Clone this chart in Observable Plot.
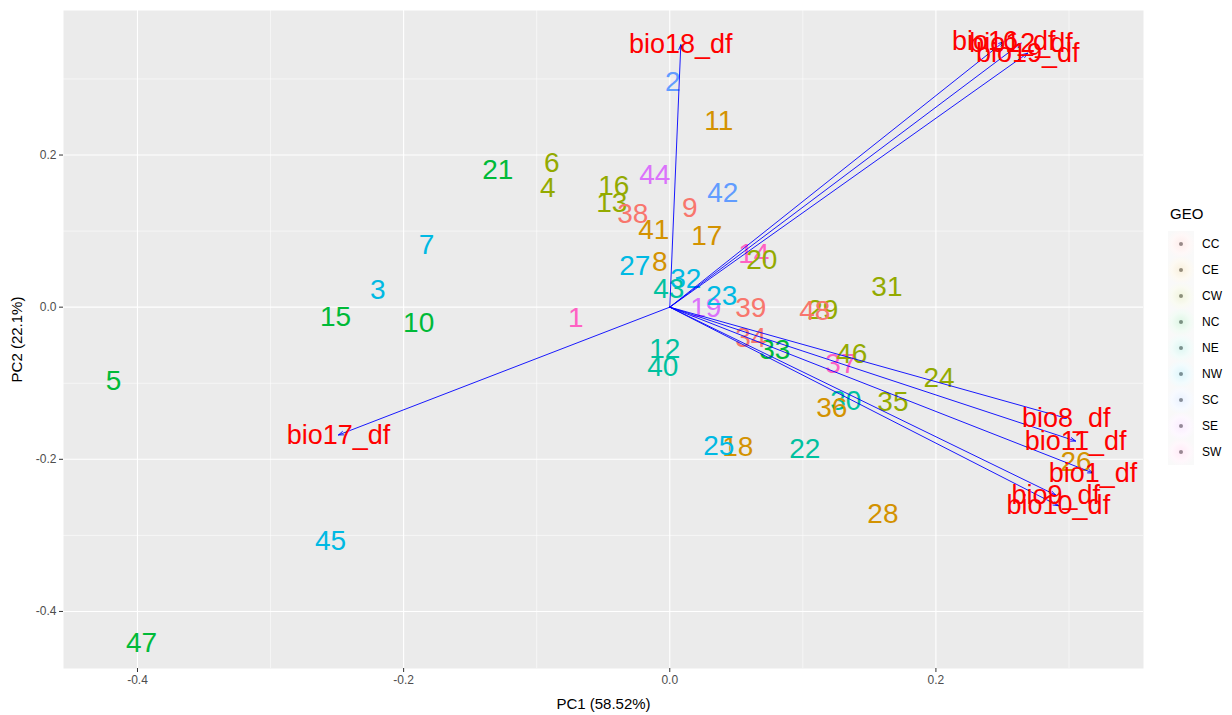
<!DOCTYPE html>
<html>
<head>
<meta charset="utf-8">
<script src="https://cdn.jsdelivr.net/npm/d3@7"></script>
<script src="https://cdn.jsdelivr.net/npm/@observablehq/plot@0.6"></script>
<style>
  html, body { margin: 0; padding: 0; background: #fff; }
  #wrap { position: relative; width: 1232px; height: 715px; font-family: "Liberation Sans", Arial, sans-serif; }
  #chart { position: absolute; left: 0; top: 0; }
  #legend { position: absolute; left: 1168px; top: 205px; font-family: "Liberation Sans", Arial, sans-serif; }
  #legend .title { font-size: 15px; color: #000; margin-left: 2px; height: 26px; }
  #legend .row { display: flex; align-items: center; height: 26px; }
  #legend .key { width: 26px; height: 26px; display: flex; align-items: center; justify-content: center; }
  #legend .dot { width: 4px; height: 4px; border-radius: 50%; background: #8a8a8a; }
  #legend .lab { font-size: 12px; color: #000; margin-left: 8px; }
</style>
</head>
<body>
<div id="wrap">
  <div id="chart"></div>
  <div id="legend"></div>
</div>
<script>
// ---- data ----
const pointLabels = ["1","2","3","4","5","6","7","8","9","10","11","12","13","14","15","16","17","18","19","20","21","22","23","24","25","26","27","28","29","30","31","32","33","34","35","36","37","38","39","40","41","42","43","44","45","46","47","48"];
const pc1 = [-0.0707,0.0023,-0.2195,-0.0917,-0.418,-0.0887,-0.1827,-0.0075,0.015,-0.1887,0.0368,-0.0038,-0.0436,0.0632,-0.2511,-0.0421,0.0278,0.0511,0.0271,0.0692,-0.1293,0.1015,0.0391,0.2023,0.0368,0.3053,-0.0263,0.1602,0.115,0.1323,0.1632,0.012,0.0789,0.0609,0.1677,0.1218,0.1286,-0.0278,0.0609,-0.0053,-0.012,0.0398,-0.0008,-0.0113,-0.2549,0.1368,-0.397,0.109];
const pc2 = [-0.0145,0.296,0.0224,0.1566,-0.0974,0.1895,0.0816,0.0592,0.130,-0.021,0.2447,-0.0553,0.1368,0.0697,-0.0132,0.1592,0.0934,-0.1842,-0.0013,0.0618,0.1803,-0.1868,0.0145,-0.0934,-0.1829,-0.204,0.0539,-0.2724,-0.004,-0.1237,0.0263,0.0368,-0.0566,-0.0408,-0.125,-0.1329,-0.075,0.1224,-0.0013,-0.0789,0.1013,0.15,0.0237,0.1737,-0.3079,-0.0618,-0.442,-0.0053];
const geo = ["SW","SC","NW","CW","NC","CW","NW","CE","CC","NC","CE","NE","CW","SW","NC","CW","CE","CE","SE","CW","NC","NE","NW","CW","NW","CE","NW","CE","CW","NE","CW","NW","NC","CC","CW","CE","SW","CC","CC","NE","CE","SC","NE","SE","NW","CW","NC","CC"];

const geoGroups = ["CC","CE","CW","NC","NE","NW","SC","SE","SW"];
const geoColors = ["#F8766D","#D39200","#93AA00","#00BA38","#00C19F","#00B9E3","#619CFF","#DB72FB","#FF61C3"];

const varNames = ["bio18_df","bio17_df","bio16_df","bio12_df","bio19_df","bio8_df","bio11_df","bio1_df","bio9_df","bio10_df"];
const loadX = [0.0083,-0.249,0.251,0.264,0.269,0.298,0.305,0.318,0.290,0.292];
const loadY = [0.345,-0.168,0.349,0.347,0.334,-0.146,-0.176,-0.218,-0.247,-0.261];

const xMajor = [-0.4,-0.2,0,0.2];
const xMinor = [-0.3,-0.1,0.1,0.3];
const yMajor = [-0.4,-0.2,0,0.2];
const yMinor = [-0.3,-0.1,0.1,0.3];

// ---- tables ----
const points = pointLabels.map((l,i)=>({label:l, x:pc1[i], y:pc2[i], geo:geo[i]}));
const loads = varNames.map((n,i)=>({name:n, x:loadX[i], y:loadY[i]}));
const fmt = d => d.toFixed(1);
const FONT = "Liberation Sans, Arial, sans-serif";

const chart = Plot.plot({
  width: 1150,
  height: 715,
  marginLeft: 63,
  marginRight: 7,
  marginTop: 10,
  marginBottom: 47,
  style: {fontFamily: FONT, background: "transparent"},
  x: {domain: [-0.4556, 0.356]},
  y: {domain: [-0.475, 0.39]},
  color: {domain: geoGroups, range: geoColors},
  marks: [
    Plot.frame({fill: "#EBEBEB", stroke: null}),
    Plot.gridX(xMinor, {stroke: "#fff", strokeOpacity: 1, strokeWidth: 0.55}),
    Plot.gridY(yMinor, {stroke: "#fff", strokeOpacity: 1, strokeWidth: 0.55}),
    Plot.gridX(xMajor, {stroke: "#fff", strokeOpacity: 1, strokeWidth: 1.1}),
    Plot.gridY(yMajor, {stroke: "#fff", strokeOpacity: 1, strokeWidth: 1.1}),
    Plot.axisX({ticks: xMajor, tickFormat: fmt, tickSize: 4, tickPadding: 3, fontSize: 12, color: "#4D4D4D", stroke: "#333",
      label: "PC1 (58.52%)", labelAnchor: "center", labelArrow: "none", labelOffset: 40}),
    Plot.axisY({ticks: yMajor, tickFormat: fmt, tickSize: 4, tickPadding: 3, fontSize: 12, color: "#4D4D4D", stroke: "#333",
      label: "PC2 (22.1%)", labelAnchor: "center", labelArrow: "none", labelOffset: 52}),
    Plot.text(points, {x: "x", y: "y", text: "label", fill: "geo", fontSize: 28, fontFamily: FONT}),
    Plot.arrow(loads, {x1: 0, y1: 0, x2: "x", y2: "y", stroke: "blue", strokeWidth: 0.9, headLength: 9, headAngle: 40}),
    Plot.text(loads, {x: "x", y: "y", text: "name", fill: "red", fontSize: 27, fontFamily: FONT})
  ]
});
// axis label font sizes
d3.select(chart).selectAll("g[aria-label='x-axis label'] text, g[aria-label='y-axis label'] text")
  .attr("font-size", 15).attr("fill", "#000");
document.getElementById("chart").appendChild(chart);

// ---- legend ----
const lg = document.getElementById("legend");
const t = document.createElement("div"); t.className = "title"; t.textContent = "GEO"; lg.appendChild(t);
geoGroups.forEach((g,i)=>{
  const r = document.createElement("div"); r.className = "row";
  const k = document.createElement("div"); k.className = "key";
  k.style.background = `radial-gradient(circle, ${geoColors[i]}22 0%, ${geoColors[i]}0d 50%, #f9f9f9 80%)`;
  const d = document.createElement("div"); d.className = "dot";
  d.style.background = d3.interpolateRgb("#8c8c8c", geoColors[i])(0.12);
  k.appendChild(d);
  const l = document.createElement("div"); l.className = "lab"; l.textContent = g;
  r.appendChild(k); r.appendChild(l); lg.appendChild(r);
});
</script>
</body>
</html>
